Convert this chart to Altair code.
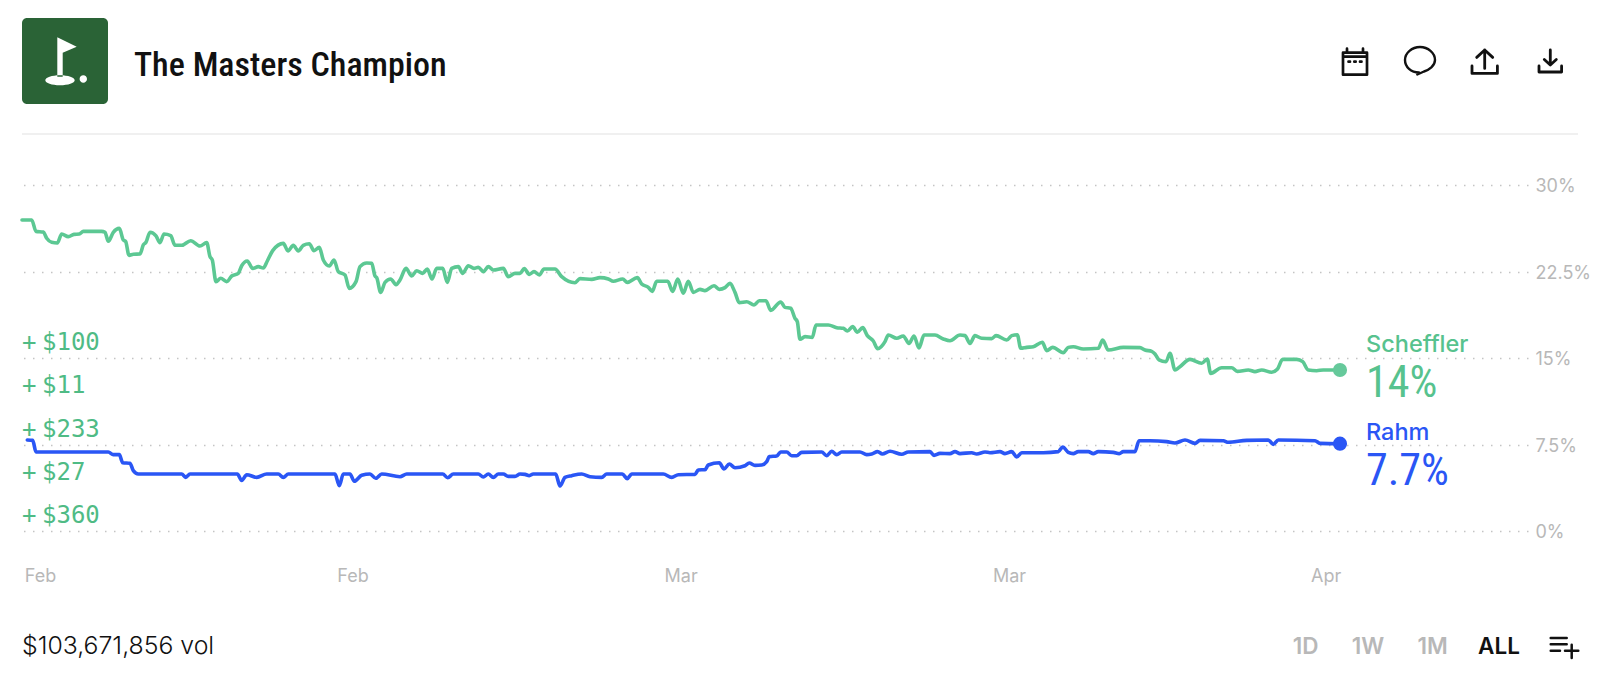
import altair as alt
import pandas as pd

TITLE = "The Masters Champion"
VOLUME = "$103,671,856 vol"
SERIES_NAMES = ["Scheffler", "Rahm"]
SERIES_LAST = ["14%", "7.7%"]
BETS = ["$100", "$11", "$233", "$27", "$360"]
RANGES = ["1D", "1W", "1M", "ALL"]
Y_TICKS = [0, 7.5, 15, 22.5, 30]
X_TICKS = [18, 330.5, 658.6, 987, 1303.7]
X_LABELS = ["Feb", "Feb", "Mar", "Mar", "Apr"]

sch_t = [0, 9.7, 14, 21.3, 24.7, 29.7, 35.3, 39.7, 46.3, 52, 57.3, 61.3, 79.7, 83, 86.3, 91.3, 97.3, 101.3, 103.7, 107,
         111.3, 118, 121.3, 124, 128, 134, 138, 142, 148.7, 153, 159.7, 168.7, 178, 184.7, 188, 190.3, 194, 198.7, 204.7,
         209.7, 216.3, 219.7, 225.3, 230.7, 236.3, 241.3, 245.3, 250.7, 261.3, 266, 271.3, 276.3, 281.3, 287.3, 292, 297.3,
         301.3, 307.3, 312, 316.3, 323, 327.3, 334, 338, 344.7, 349.7, 353, 354.7, 358.7, 363, 368.7, 374,
         378, 384, 389.7, 394.7, 400.7, 405.3, 410, 414.7, 420.7, 425.3, 429.7, 436.3, 440.7, 446.3, 452, 456.3, 461.3,
         466.3, 471.3, 481.3, 486.3, 493, 498, 502.3, 507.3, 512, 517.3, 522, 533, 539.7, 553, 558, 569.7, 578, 586.3,
         591.3, 600.7, 605.3, 615.3, 619.7, 626.3, 630.3, 634.7, 645.7, 650.7, 655.7, 661.3, 666.3, 671.3, 678, 683, 692,
         697.3, 703, 708, 713, 717.3, 724.7, 732, 737.3, 744, 748.7, 758.7, 763, 768.7, 773, 775.3, 778,
         783, 790.3, 794, 806.3, 814.7, 821.3, 825.3, 830.7, 835.3, 840.7, 845.3, 851.3, 855.7, 863, 866.3, 874.7, 881.3,
         887, 892, 897, 902, 913, 921.3, 928, 938, 943, 948, 953, 959.7, 969.7, 974, 984.7, 989.7, 995.3, 998.7, 1004.7,
         1011.3, 1020.3, 1024.7, 1030.7, 1041.3, 1046.3, 1051.3, 1061.3, 1076.3, 1080.7, 1086.3, 1101.3, 1118, 1123, 1129.7,
         1133, 1137, 1144, 1148, 1153, 1157.3, 1168, 1179.7, 1185.3, 1188.7, 1199.7, 1209.7, 1215.3, 1226.3, 1233, 1239.7,
         1249.7, 1255.3, 1260.7, 1274.7, 1280.7, 1286.3, 1294.7, 1301.3, 1318]
sch_v = [26.97, 26.97, 25.98, 25.92, 25.38, 25.03, 24.97, 25.75, 25.52, 25.72, 25.75, 25.98, 25.98, 25.9, 25.12, 25.9, 26.24,
         25.23, 25.09, 23.9, 23.99, 24.02, 24.8, 25.03, 25.9, 25.58, 25.0, 25.75, 25.61, 24.77, 24.77, 25.17, 24.71, 25.0,
         23.79, 23.5, 21.62, 21.91, 21.62, 22.11, 22.34, 23.0, 23.41, 22.77, 22.92, 22.8, 23.41, 24.31, 24.94, 24.28, 24.77,
         24.28, 24.77, 24.91, 24.31, 24.6, 23.5, 22.98, 23.5, 22.49, 22.2, 21.04, 21.62, 22.92, 23.24, 23.21, 22.11, 21.97,
         20.69, 21.56, 21.85, 21.36,
         21.76, 22.77, 22.11, 22.57, 22.34, 22.72, 21.85, 22.77, 22.77, 21.56, 22.77, 22.92, 22.34, 23.0, 22.77, 22.86,
         22.49, 22.92, 22.63, 22.77, 22.05, 22.34, 22.34, 22.75, 22.25, 22.49, 22.2, 22.72, 22.72, 22.05, 21.53, 21.88,
         21.82, 21.97, 21.85, 21.65, 21.85, 21.56, 21.97, 21.42, 21.13, 20.78, 21.65, 21.65, 20.78, 21.85, 20.61, 21.65,
         20.69, 20.95, 20.84, 21.27, 20.95, 21.1, 21.47, 20.69, 19.8, 19.88, 19.6, 19.97, 19.97, 19.13, 19.86, 19.39, 19.31,
         18.44, 18.15, 16.62,
         16.85, 16.79, 17.86, 17.86, 17.63, 17.57, 17.34, 17.72, 17.23, 17.63, 16.94, 16.47, 15.81, 16.42, 16.99, 16.71,
         16.91, 16.27, 16.91, 15.87, 16.99, 16.99, 16.65, 16.5, 16.99, 16.94, 16.27, 16.94, 16.71, 16.68, 16.94, 16.56,
         16.94, 17.02, 15.84, 15.92, 15.98, 16.36, 15.64, 15.92, 15.46, 15.92, 15.98, 15.78, 15.84, 16.56, 15.69, 15.92,
         15.9, 15.69, 15.58, 15.35, 14.83, 14.68, 15.4, 13.96, 14.2, 14.88, 14.54, 14.91, 13.67, 14.16, 14.16, 13.84, 13.96,
         13.82, 13.96, 13.76, 14.02, 14.88, 14.88, 14.68, 13.96, 13.9, 13.96, 13.96]

rah_t = [5.3, 10.7, 14, 86.3, 91.3, 97.3, 100.7, 108, 111.3, 116.3, 159.7, 163.7, 168, 215.3, 219.7, 224.7, 234.7, 244.7,
         256.3, 261.3, 266.3, 313, 317.3, 321.3, 328, 332.3, 339.7, 348, 353.7, 359.7,
         378, 384.7, 420.7, 425.7, 431.3, 456.3, 461.3, 466.3, 471.3, 476.3, 481.3, 486.3, 493, 498, 503, 507.3, 511.3, 533.7,
         538, 543, 549.7, 559.7, 568, 579.7, 584.7, 600.3, 605.3, 609.7, 641.3, 649.7, 656.3, 673, 676.3, 683, 686.3, 697.3,
         702, 707.3, 713, 723, 727.3, 733, 739.7, 744.7, 747.3, 754.7, 758.7, 764.7, 769.7, 774.7, 779.7, 799.7, 804.7,
         809.7, 814.7, 819.7, 838, 844.7, 849.7, 855.7, 860.3, 868, 879.7, 886.3, 908, 912, 918, 928, 933, 938, 949.7, 954.7,
         963, 968, 978, 983, 989.7, 994.7, 999.7, 1021.3, 1036.3, 1040.7, 1046.3, 1051.3, 1056.3, 1066.3, 1071.3, 1076.3,
         1091.3, 1097.3, 1101.3, 1113, 1117, 1128, 1144.7, 1153, 1163, 1173, 1178, 1201.3, 1206.3, 1224.7, 1246.3, 1251.3,
         1256.3, 1293, 1298, 1318]
rah_v = [7.89, 7.86, 6.85, 6.85, 6.62, 6.62, 5.92, 5.87, 5.23, 4.94, 4.94, 4.65, 4.94, 4.94, 4.39, 4.88, 4.65, 4.94,
         4.94, 4.65, 4.94, 4.94, 3.93, 4.94, 4.94, 4.31, 4.83, 4.94, 4.57, 4.94,
         4.71, 4.94, 4.94, 4.62, 4.94, 4.94, 4.68, 4.94, 4.65, 4.94, 4.94, 4.74, 4.74, 4.94, 4.91, 4.8, 4.94, 4.94,
         3.9, 4.65, 4.8, 4.94, 4.71, 4.65, 4.94, 4.94, 4.54, 4.94, 4.94, 4.65, 4.88, 4.91, 5.29, 5.32, 5.72, 5.92,
         5.38, 5.81, 5.49, 5.66, 5.9, 5.69, 5.72, 6.01, 6.45, 6.5, 6.85, 6.85, 6.53, 6.53, 6.82, 6.85, 6.53,
         6.91, 6.62, 6.85, 6.85, 6.62, 6.68, 6.88, 6.68, 6.91, 6.65, 6.85, 6.88, 6.56, 6.73, 6.71, 6.88, 6.71, 6.79, 6.68,
         6.85, 6.79, 6.88, 6.71, 6.88, 6.42, 6.79, 6.79, 6.88, 7.28, 6.82, 6.71, 6.88, 6.88, 6.71, 6.88,
         6.82, 6.71, 6.88, 6.88, 7.83, 7.83, 7.75, 7.63, 7.89, 7.6, 7.86, 7.83, 7.69, 7.86, 7.89, 7.51,
         7.89, 7.83, 7.6, 7.57]

GREEN = "#5cc893"
GREEN_TEXT = "#57c28e"
BET_GREEN = "#4fbb85"
BLUE = "#2a56f5"
GREY = "#b8b8b8"
INK = "#111111"
SANS = "Inter"
NARROW = "Roboto Condensed"
MONO = "DejaVu Sans Mono"

OX, OY = 22, 185  # page position of the plot area's corner
one = alt.Data(values=[{}])


def text(s, x, y, size, color, font=SANS, weight=400, align="left"):
    return alt.Chart(one).mark_text(
        text=s, x=x - OX, y=y - OY, fontSize=size, color=color, font=font,
        fontWeight=weight, align=align, baseline="alphabetic")


def glyph(path, x, y, fill=None, stroke=None, width=2.5):
    kw = dict(shape=path, size=4, x=x - OX, y=y - OY, opacity=1)
    if fill:
        kw.update(filled=True, fill=fill, strokeWidth=0)
    else:
        kw.update(filled=False, stroke=stroke, strokeWidth=width, strokeCap="round", strokeJoin="round")
    return alt.Chart(one).mark_point(**kw)


x_scale = alt.Scale(domain=[0, 1506], range=[0, 1506])
y_scale = alt.Scale(domain=[0, 30])
label_expr = "%s[indexof(%s, datum.value)]" % (X_LABELS, X_TICKS)
x_axis = alt.Axis(values=X_TICKS, labelExpr=label_expr, title=None, domain=False, ticks=False, grid=False,
                  labelPadding=36, labelFontSize=18, labelColor=GREY, labelFont=SANS, labelFontWeight=400,
                  labelOverlap=False, labelFlush=False, labelBound=False)
y_axis = alt.Axis(values=Y_TICKS, orient="right", title=None, domain=False, ticks=False, grid=True,
                  gridColor="#c4c4c4", gridDash=[1.5, 7.5], gridWidth=1.5, labelPadding=7, labelFontSize=18,
                  labelColor=GREY, labelFont=SANS, labelFontWeight=400, labelOffset=1.5,
                  labelExpr="datum.value + '%'", labelOverlap=False, labelBound=False, labelFlush=False)


def line(ts, vs, color):
    df = pd.DataFrame({"t": ts, "v": vs})
    return alt.Chart(df).mark_line(color=color, strokeWidth=3.6, strokeJoin="round", strokeCap="round",
                                   interpolate="monotone").encode(
        x=alt.X("t:Q", scale=x_scale, axis=x_axis),
        y=alt.Y("v:Q", scale=y_scale, axis=y_axis),
    )


def dot(t, v, color):
    return alt.Chart(pd.DataFrame({"t": [t], "v": [v]})).mark_point(
        filled=True, size=200, color=color, opacity=1, strokeWidth=0).encode(
        x=alt.X("t:Q", scale=x_scale, axis=x_axis), y=alt.Y("v:Q", scale=y_scale, axis=y_axis))


layers = [
    line(sch_t, sch_v, GREEN),
    line(rah_t, rah_v, BLUE),
    dot(sch_t[-1], sch_v[-1], "#66c99b"),
    dot(rah_t[-1], rah_v[-1], BLUE),
]

# header
layers.append(alt.Chart(one).mark_rect(x=22 - OX, x2=108 - OX, y=18 - OY, y2=104 - OY, color="#2a6336", cornerRadius=5))
layers.append(glyph(
    "M-7.7 -23.7 L11.7 -14.3 L-2.3 -8.3 L-2.3 15.7 L-7.7 15.7 Z "
    "M-19.7 19.3 A14.7 5 0 1 0 9.7 19.3 A14.7 5 0 1 0 -19.7 19.3 Z "
    "M14.6 18 A3.7 3.7 0 1 0 22 18 A3.7 3.7 0 1 0 14.6 18 Z", 65, 61, fill="#ffffff"))
layers.append(text(TITLE, 134, 76, 34, INK, font=NARROW, weight=500))
layers.append(glyph("M-12 -9 H12 V13 H-12 Z M-12 -5 H12 M-8 -13 V-9 M8 -13 V-9 M-6.5 0 H-5 M-0.7 0 H0.7 M5 0 H6.5",
                    1355, 61.7, stroke=INK, width=2.7))
layers.append(glyph("M-1 12.5 C-9 12.5 -15 7 -15 0 C-15 -7 -8 -13 0 -13 C8 -13 15 -7 15 0 C15 6 9 10 4 11.5 L-2.7 14.5 Z",
                    1420, 60, stroke=INK, width=2.4))
layers.append(glyph("M-12.7 4.3 V11.7 H12.7 V4.3 M0 6.7 V-11.7 M-8 -4.3 L0 -11.7 L8 -4.3", 1484.7, 61.7, stroke=INK, width=2.8))
layers.append(glyph("M-11.3 4.3 V10.3 H11.3 V4.3 M0 3.3 V-11.7 M-6 -2.3 L0 3.3 L6 -2.3", 1550.3, 61.7, stroke=INK, width=2.8))
layers.append(alt.Chart(one).mark_rule(color="#ebebeb", strokeWidth=1.5).encode(
    x=alt.value(22 - OX), x2=alt.value(1578 - OX), y=alt.value(134 - OY)))

# bet amounts on the left
for amount, base in zip(BETS, [350, 393, 437, 480, 523]):
    layers.append(text("+", 22, base, 24, BET_GREEN, font=MONO))
    layers.append(text(amount, 42, base, 24, BET_GREEN, font=MONO))

# end labels
layers.append(text(SERIES_NAMES[0], 1366, 352, 23.5, GREEN_TEXT, weight=500))
layers.append(text(SERIES_LAST[0], 1366, 397, 44, GREEN_TEXT, font=NARROW, weight=400))
layers.append(text(SERIES_NAMES[1], 1366, 440, 23.5, BLUE, weight=500))
layers.append(text(SERIES_LAST[1], 1366, 485, 44, BLUE, font=NARROW, weight=400))

# footer
layers.append(text(VOLUME, 22, 654, 24.8, INK, weight=300))
for label, cx in zip(RANGES, [1305.7, 1368, 1432.7, 1499]):
    layers.append(text(label, cx, 654, 22.5, INK if label == "ALL" else GREY, weight=600, align="center"))
layers.append(glyph("M-14.3 -10 H1.7 M-14.3 -3.7 H1.7 M-14.3 2.7 H-5 M0 2.7 H13.3 M6.7 -3.3 V10", 1565, 648, stroke=INK, width=2.5))

chart = alt.layer(*layers).properties(
    width=1506, height=346,
    autosize=alt.AutoSizeParams(type="none"),
    padding={"left": 14, "top": 177, "right": 64, "bottom": 149},
    background="#ffffff",
).configure_view(stroke=None)

chart.save("out.html", embed_options={"renderer": "svg", "actions": False})
